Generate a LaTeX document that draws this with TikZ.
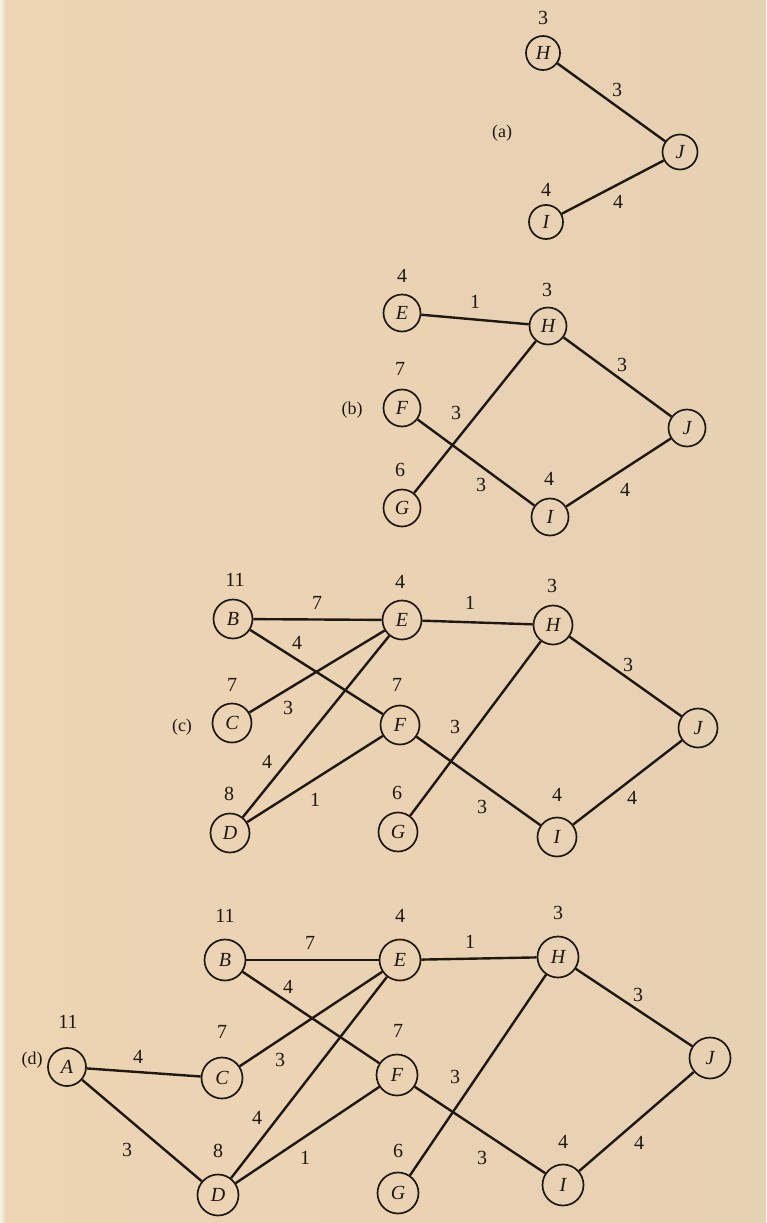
\documentclass[tikz,border=0pt]{standalone}
\usepackage{fontspec}
\setmainfont{Liberation Serif}
\definecolor{ink}{HTML}{1E1814}
\definecolor{bgL}{HTML}{EDD4B3}
\definecolor{bgM}{HTML}{EBD3B2}
\definecolor{bgR}{HTML}{E7D1B3}
\begin{document}
\begin{tikzpicture}[x=1pt,y=-1pt,
  v/.style={draw=ink, line width=1.7pt, circle, minimum size=36pt, inner sep=0pt,
    font=\fontsize{20}{20}\selectfont\itshape, text=ink},
  num/.style={font=\fontsize{20}{20}\selectfont, text=ink, inner sep=0pt},
  tag/.style={font=\fontsize{18}{18}\selectfont, text=ink, inner sep=0pt},
  edge/.style={draw=ink, line width=2.4pt}]
\useasboundingbox (0,0) rectangle (766,1223);
\shade[left color=bgL, middle color=bgM, right color=bgR] (0,0) rectangle (766,1223);
\shade[left color=white!70!bgL, right color=bgL] (0,0) rectangle (6,1223);

% ---------- (a) ----------
\node[v, minimum size=34pt] (aH) at (543,53) {H};
\node[v, minimum size=35pt] (aJ) at (680,152) {J};
\node[v, minimum size=34pt] (aI) at (546,222) {I};
\node[num] (aHv) at (543,18) {3};
\node[num] (aIv) at (546,190) {4};
\node[num] (aHJ) at (617,90) {3};
\node[num] (aIJ) at (618,202) {4};
\node[tag] (atag) at (502,133) {(a)};
\draw[edge] (aH) -- (aJ);
\draw[edge] (aI) -- (aJ);

% ---------- (b) ----------
\node[v, minimum size=37pt] (bE) at (402,313) {E};
\node[v, minimum size=37pt] (bH) at (548,326) {H};
\node[v, minimum size=37pt] (bF) at (402,408) {F};
\node[v, minimum size=37pt] (bG) at (402,508) {G};
\node[v, minimum size=37pt] (bI) at (550,517) {I};
\node[v, minimum size=37pt] (bJ) at (687,428) {J};
\node[num] (bEv) at (402,276) {4};
\node[num] (bHv) at (547,290) {3};
\node[num] (bFv) at (400,369) {7};
\node[num] (bGv) at (400,470) {6};
\node[num] (bIv) at (549,479) {4};
\node[num] (bEH) at (475,302) {1};
\node[num] (bHJ) at (622,365) {3};
\node[num] (bGH) at (456,413) {3};
\node[num] (bFI) at (481,485) {3};
\node[num] (bIJ) at (625,490) {4};
\node[tag] (btag) at (352,410) {(b)};
\draw[edge] (bE) -- (bH);
\draw[edge] (bH) -- (bG);
\draw[edge] (bF) -- (bI);
\draw[edge] (bH) -- (bJ);
\draw[edge] (bI) -- (bJ);

% ---------- (c) ----------
\node[v, minimum size=39pt] (cB) at (233,619) {B};
\node[v, minimum size=39pt] (cE) at (402,620) {E};
\node[v, minimum size=39pt] (cH) at (553,625) {H};
\node[v, minimum size=39pt] (cC) at (232,723) {C};
\node[v, minimum size=39pt] (cF) at (400,725) {F};
\node[v, minimum size=39pt] (cJ) at (698,728) {J};
\node[v, minimum size=39pt] (cD) at (230,833) {D};
\node[v, minimum size=39pt] (cG) at (398,832) {G};
\node[v, minimum size=39pt] (cI) at (557,837) {I};
\node[num] (cBv) at (235,580) {11};
\node[num] (cEv) at (400,582) {4};
\node[num] (cHv) at (552,586) {3};
\node[num] (cCv) at (232,685) {7};
\node[num] (cFv) at (397,685) {7};
\node[num] (cDv) at (229,794) {8};
\node[num] (cGv) at (397,793) {6};
\node[num] (cIv) at (557,795) {4};
\node[num] (cBE) at (317,603) {7};
\node[num] (cEH) at (470,603) {1};
\node[num] (cBF) at (297,643) {4};
\node[num] (cHJ) at (628,665) {3};
\node[num] (cCE) at (288,708) {3};
\node[num] (cGH) at (455,727) {3};
\node[num] (cDE) at (267,762) {4};
\node[num] (cDF) at (315,800) {1};
\node[num] (cFI) at (482,807) {3};
\node[num] (cIJ) at (632,798) {4};
\node[tag] (ctag) at (182,727) {(c)};
\draw[edge] (cB) -- (cE);
\draw[edge] (cE) -- (cH);
\draw[edge] (cB) -- (cF);
\draw[edge] (cC) -- (cE);
\draw[edge] (cD) -- (cE);
\draw[edge] (cD) -- (cF);
\draw[edge] (cH) -- (cG);
\draw[edge] (cF) -- (cI);
\draw[edge] (cH) -- (cJ);
\draw[edge] (cI) -- (cJ);

% ---------- (d) ----------
\node[v, minimum size=38pt] (dA) at (67,1067) {A};
\node[v, minimum size=41pt] (dB) at (225,960) {B};
\node[v, minimum size=41pt] (dE) at (400,960) {E};
\node[v, minimum size=41pt] (dH) at (558,957) {H};
\node[v, minimum size=41pt] (dC) at (222,1078) {C};
\node[v, minimum size=41pt] (dF) at (397,1075) {F};
\node[v, minimum size=41pt] (dJ) at (710,1058) {J};
\node[v, minimum size=41pt] (dD) at (218,1195) {D};
\node[v, minimum size=41pt] (dG) at (398,1193) {G};
\node[v, minimum size=41pt] (dI) at (563,1185) {I};
\node[num] (dAv) at (68,1022) {11};
\node[num] (dBv) at (225,916) {11};
\node[num] (dEv) at (400,916) {4};
\node[num] (dHv) at (558,913) {3};
\node[num] (dCv) at (222,1032) {7};
\node[num] (dFv) at (398,1031) {7};
\node[num] (dDv) at (218,1151) {8};
\node[num] (dGv) at (398,1151) {6};
\node[num] (dIv) at (563,1142) {4};
\node[num] (dAC) at (138,1057) {4};
\node[num] (dAD) at (127,1150) {3};
\node[num] (dBE) at (310,943) {7};
\node[num] (dEH) at (470,942) {1};
\node[num] (dBF) at (288,987) {4};
\node[num] (dCE) at (280,1060) {3};
\node[num] (dHJ) at (638,995) {3};
\node[num] (dGH) at (455,1077) {3};
\node[num] (dDE) at (257,1118) {4};
\node[num] (dDF) at (305,1158) {1};
\node[num] (dFI) at (482,1158) {3};
\node[num] (dIJ) at (639,1143) {4};
\node[tag] (dtag) at (32,1060) {(d)};
\draw[edge] (dA) -- (dC);
\draw[edge] (dA) -- (dD);
\draw[edge] (dB) -- (dE);
\draw[edge] (dE) -- (dH);
\draw[edge] (dB) -- (dF);
\draw[edge] (dC) -- (dE);
\draw[edge] (dD) -- (dE);
\draw[edge] (dD) -- (dF);
\draw[edge] (dH) -- (dG);
\draw[edge] (dF) -- (dI);
\draw[edge] (dH) -- (dJ);
\draw[edge] (dI) -- (dJ);
\end{tikzpicture}
\end{document}
